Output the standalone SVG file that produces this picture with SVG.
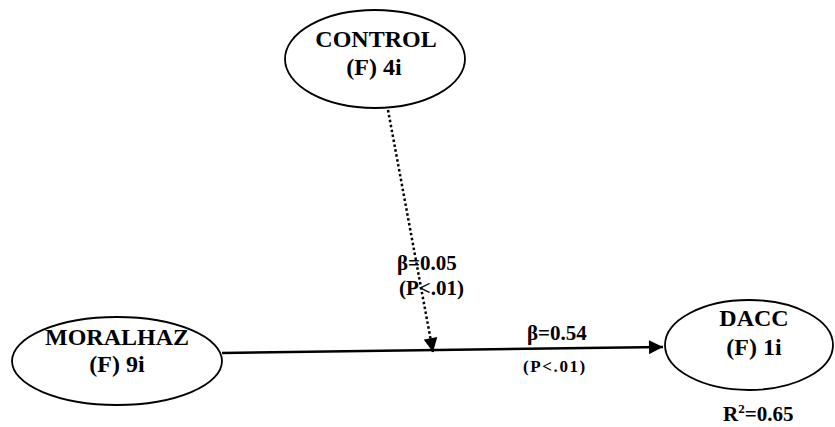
<svg xmlns="http://www.w3.org/2000/svg" width="835" height="427" viewBox="0 0 835 427">
<style>
.node ellipse{fill:#fff;stroke:#000;stroke-width:1.8}
text{font-family:"Liberation Serif","Times New Roman",serif;font-weight:bold;fill:#000}
.lbl{font-size:24px;text-anchor:middle}
.coef{font-size:21px}
.small{font-size:17px;letter-spacing:1.6px}
</style>
<defs>
<marker id="ah" viewBox="0 0 10 10" refX="10" refY="5" markerWidth="16" markerHeight="14" markerUnits="userSpaceOnUse" orient="auto">
<path d="M0,0 L10,5 L0,10 z" fill="#000"/>
</marker>
</defs>
<g id="connectors">
<line x1="222" y1="353" x2="663" y2="347" stroke="#000" stroke-width="2.5" marker-end="url(#ah)"/>
<line x1="388" y1="110" x2="433" y2="352" stroke="#000" stroke-width="2.5" stroke-dasharray="2.5,2.5" marker-end="url(#ah)"/>
</g>
<g id="control" class="node">
<ellipse cx="375" cy="59" rx="90" ry="49"/>
<text class="lbl" x="376" y="47">CONTROL</text>
<text class="lbl" x="374" y="75">(F) 4i</text>
</g>
<g id="moralhaz" class="node">
<ellipse cx="117" cy="361" rx="105" ry="44"/>
<text class="lbl" x="117" y="345">MORALHAZ</text>
<text class="lbl" x="117" y="372">(F) 9i</text>
</g>
<g id="dacc" class="node">
<ellipse cx="749" cy="345" rx="84" ry="45"/>
<text class="lbl" x="754" y="326">DACC</text>
<text class="lbl" x="754" y="355">(F) 1i</text>
</g>
<g id="labels">
<text class="coef" x="397" y="270">β=0.05</text>
<text class="coef" x="399" y="295">(P&lt;.01)</text>
<text class="coef" x="527" y="340">β=0.54</text>
<text class="small" x="523" y="372">(P&lt;.01)</text>
<text class="coef" x="723" y="421">R<tspan font-size="13" dy="-8">2</tspan><tspan dy="8">=0.65</tspan></text>
</g>
</svg>
